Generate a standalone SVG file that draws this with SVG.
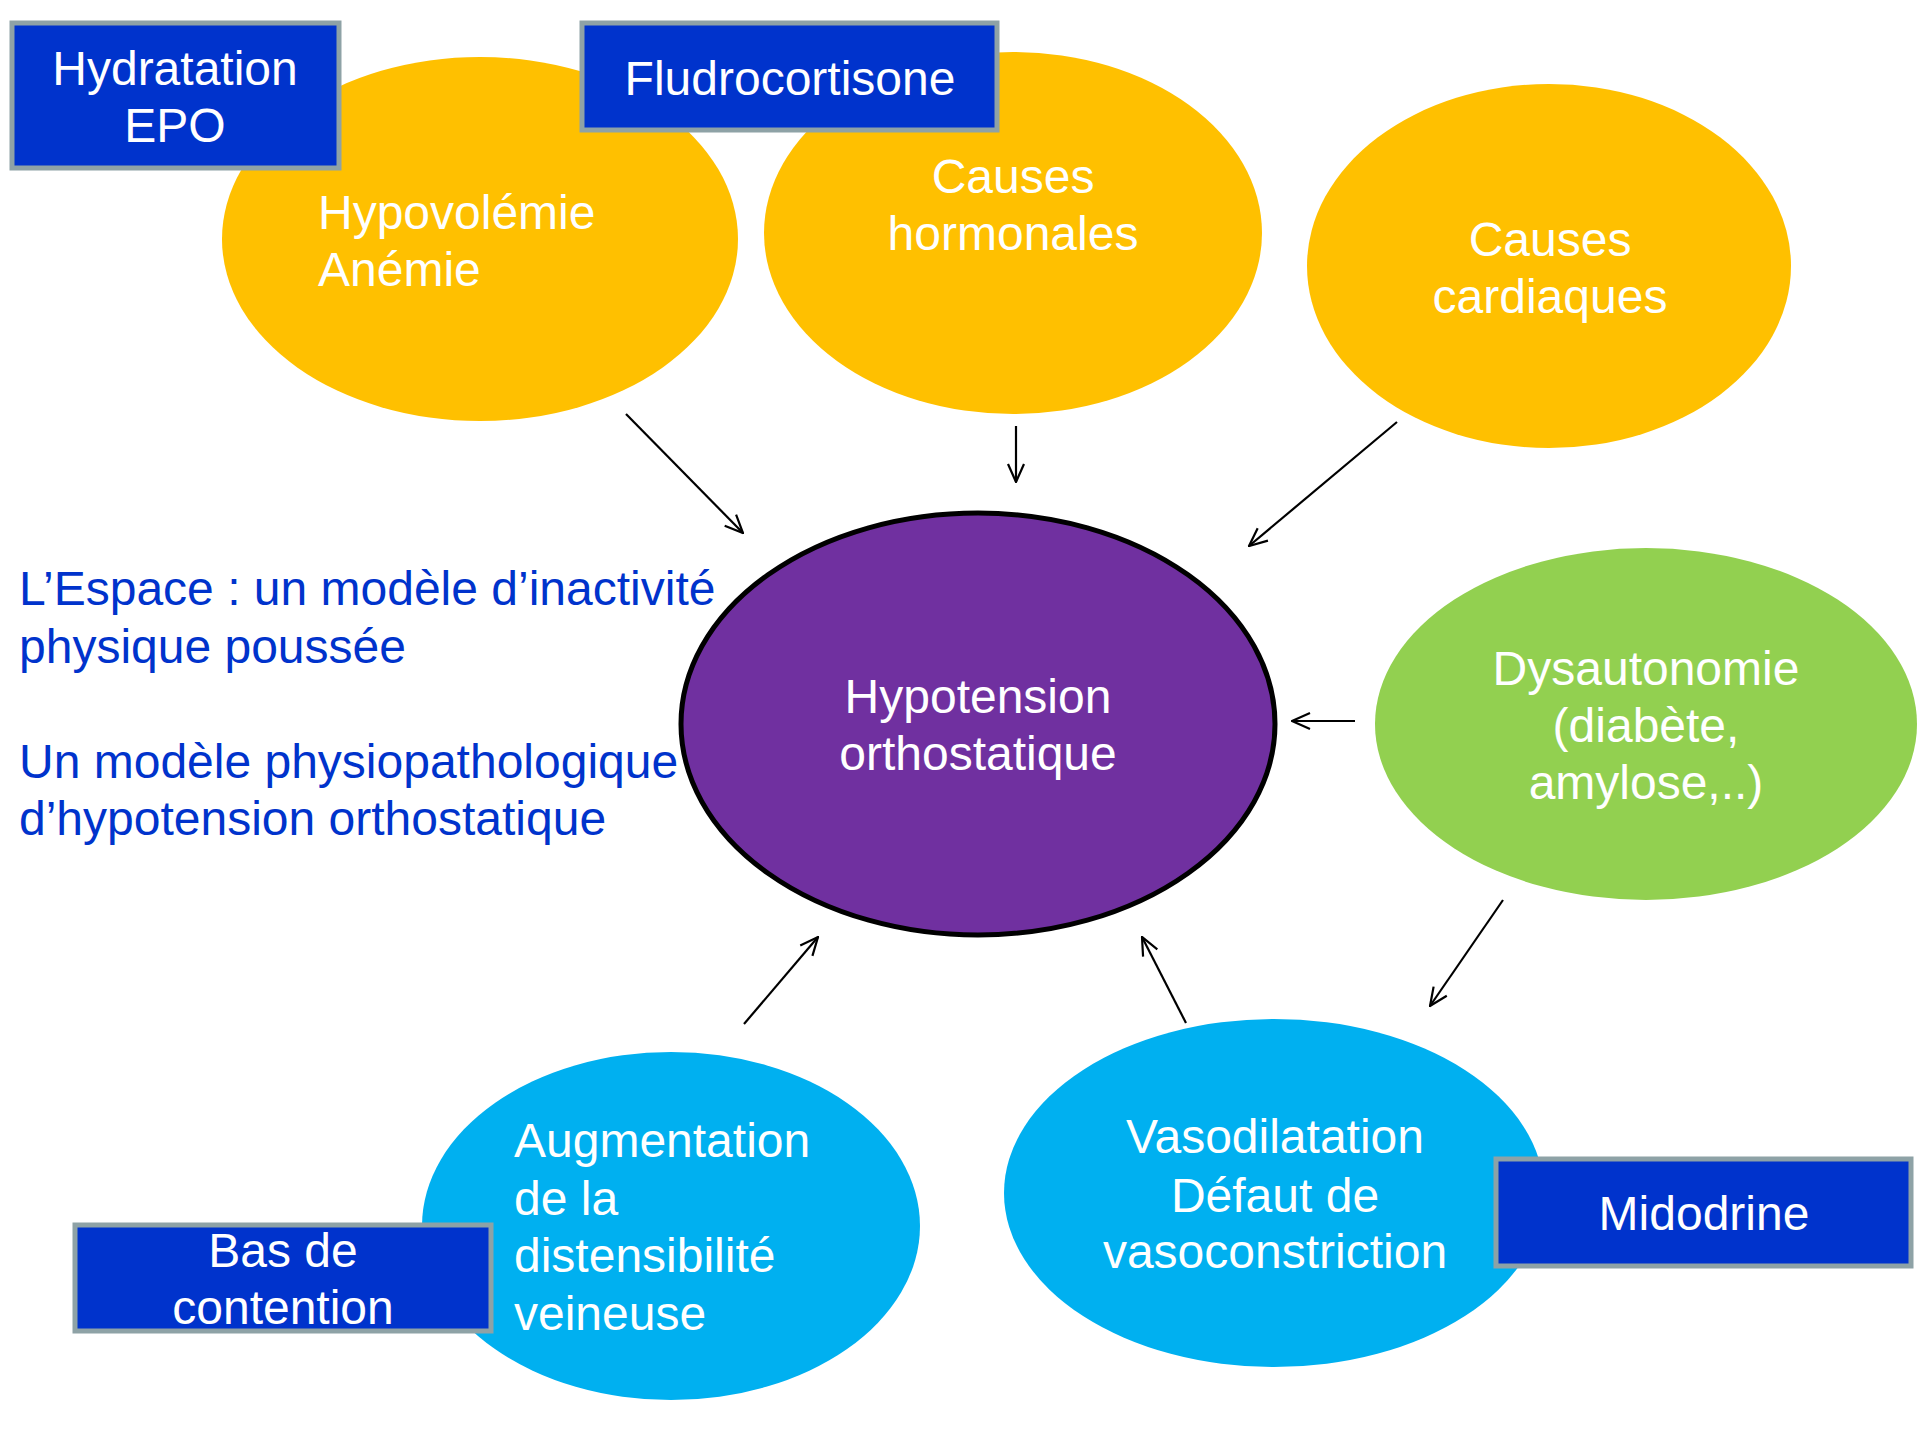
<svg xmlns="http://www.w3.org/2000/svg" width="1920" height="1440" viewBox="0 0 1920 1440">
<style>
text{font-family:"Liberation Sans",Arial,sans-serif;font-size:48px;fill:#ffffff}
.c{text-anchor:middle}
.blue{fill:#0033CC}
.box{fill:#0033CC;stroke:#8EA2A6;stroke-width:5}
.yel{fill:#FFC000}
.cyan{fill:#00B0F0}
.conn line{stroke:#000;stroke-width:2.2;marker-end:url(#arr)}
</style>
<defs>
<marker id="arr" viewBox="0 0 22 20" refX="21" refY="10" markerWidth="22" markerHeight="20" markerUnits="userSpaceOnUse" orient="auto">
<path d="M3,2 L21,10 L3,18" fill="none" stroke="#000" stroke-width="2.2"/>
</marker>
</defs>
<rect width="1920" height="1440" fill="#fff"/>
<g id="hypovolemie"><ellipse class="yel" cx="480" cy="239" rx="258" ry="182"/>
<text x="318" y="229">Hypovolémie</text><text x="318" y="286">Anémie</text></g>
<g id="hormonales"><ellipse class="yel" cx="1013" cy="233" rx="249" ry="181"/>
<text class="c" x="1013" y="193">Causes</text><text class="c" x="1013" y="250">hormonales</text></g>
<g id="cardiaques"><ellipse class="yel" cx="1549" cy="266" rx="242" ry="182"/>
<text class="c" x="1550" y="256">Causes</text><text class="c" x="1550" y="313">cardiaques</text></g>
<g id="hypotension"><ellipse cx="978" cy="724" rx="297" ry="211" fill="#7030A0" stroke="#000" stroke-width="5"/>
<text class="c" x="978" y="713">Hypotension</text><text class="c" x="978" y="770">orthostatique</text></g>
<g id="dysautonomie"><ellipse cx="1646" cy="724" rx="271" ry="176" fill="#92D050"/>
<text class="c" x="1646" y="685">Dysautonomie</text><text class="c" x="1646" y="742">(diabète,</text><text class="c" x="1646" y="799">amylose,..)</text></g>
<g id="distensibilite"><ellipse class="cyan" cx="671" cy="1226" rx="249" ry="174"/>
<text x="514" y="1157">Augmentation</text><text x="514" y="1215">de la</text><text x="514" y="1272">distensibilité</text><text x="514" y="1330">veineuse</text></g>
<g id="vasodilatation"><ellipse class="cyan" cx="1274" cy="1193" rx="270" ry="174"/>
<text class="c" x="1275" y="1153">Vasodilatation</text><text class="c" x="1275" y="1212">Défaut de</text><text class="c" x="1275" y="1268">vasoconstriction</text></g>
<g id="hydratation"><rect class="box" x="12" y="23" width="327" height="145"/>
<text class="c" x="175" y="85">Hydratation</text><text class="c" x="175" y="142">EPO</text></g>
<g id="fludrocortisone"><rect class="box" x="582" y="23" width="415" height="107"/>
<text class="c" x="790" y="95">Fludrocortisone</text></g>
<g id="bas-contention"><rect class="box" x="75" y="1225" width="416" height="106"/>
<text class="c" x="283" y="1267">Bas de</text><text class="c" x="283" y="1324">contention</text></g>
<g id="midodrine"><rect class="box" x="1496" y="1159" width="415" height="107"/>
<text class="c" x="1704" y="1230">Midodrine</text></g>
<g id="text-espace">
<text class="blue" x="19" y="605">L’Espace : un modèle d’inactivité</text>
<text class="blue" x="19" y="663">physique poussée</text>
<text class="blue" x="19" y="778">Un modèle physiopathologique</text>
<text class="blue" x="19" y="835">d’hypotension orthostatique</text>
</g>
<g id="connectors" class="conn">
<line x1="626" y1="414" x2="743" y2="533"/>
<line x1="1016" y1="426" x2="1016" y2="482"/>
<line x1="1397" y1="422" x2="1249" y2="546"/>
<line x1="1355" y1="721" x2="1292" y2="721"/>
<line x1="1503" y1="900" x2="1430" y2="1006"/>
<line x1="1186" y1="1023" x2="1142" y2="937"/>
<line x1="744" y1="1024" x2="818" y2="937"/>
</g>
</svg>
